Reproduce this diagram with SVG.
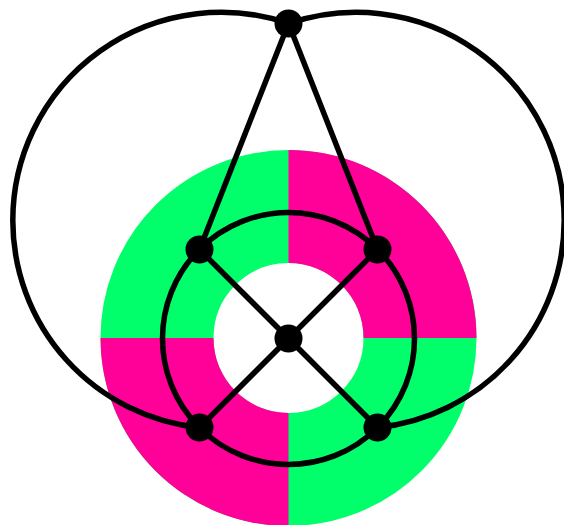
<svg xmlns="http://www.w3.org/2000/svg" width="564" height="525" viewBox="0 0 564 525">
<style>
.edge{fill:none;stroke:#000;stroke-width:5.5}
.node{fill:#000}
.m{fill:#ff0099}
</style>
<rect width="564" height="525" fill="#fff"/>
<g id="ring">
<circle cx="288.5" cy="338" r="131.5" fill="none" stroke="#00ff6a" stroke-width="113"/>
<path class="m" d="M288.5,150 A188,188 0 0 1 476.5,338 L363.5,338 A75,75 0 0 0 288.5,263 Z"/>
<path class="m" d="M288.5,526 A188,188 0 0 1 100.5,338 L213.5,338 A75,75 0 0 0 288.5,413 Z"/>
</g>
<g id="connectors">
<path class="edge" d="M288.5,23.5 A208.2,208.2 0 0 0 12.8,220.2 A208.2,208.2 0 0 0 199.5,427.5"/>
<path class="edge" d="M288.5,23.5 A208.2,208.2 0 0 1 564.2,220.2 A208.2,208.2 0 0 1 377.5,427.5"/>
<circle class="edge" cx="288.5" cy="338.5" r="126"/>
<line class="edge" x1="288.5" y1="23.5" x2="199.5" y2="249.5"/>
<line class="edge" x1="288.5" y1="23.5" x2="377.5" y2="249.5"/>
<line class="edge" x1="199.5" y1="249.5" x2="377.5" y2="427.5"/>
<line class="edge" x1="377.5" y1="249.5" x2="199.5" y2="427.5"/>
</g>
<g id="n0"><circle class="node" cx="288.5" cy="23.5" r="14"/></g>
<g id="n1"><circle class="node" cx="199.5" cy="249.5" r="14"/></g>
<g id="n2"><circle class="node" cx="377.5" cy="249.5" r="14"/></g>
<g id="n3"><circle class="node" cx="288.5" cy="338.5" r="14"/></g>
<g id="n4"><circle class="node" cx="199.5" cy="427.5" r="14"/></g>
<g id="n5"><circle class="node" cx="377.5" cy="427.5" r="14"/></g>
</svg>
